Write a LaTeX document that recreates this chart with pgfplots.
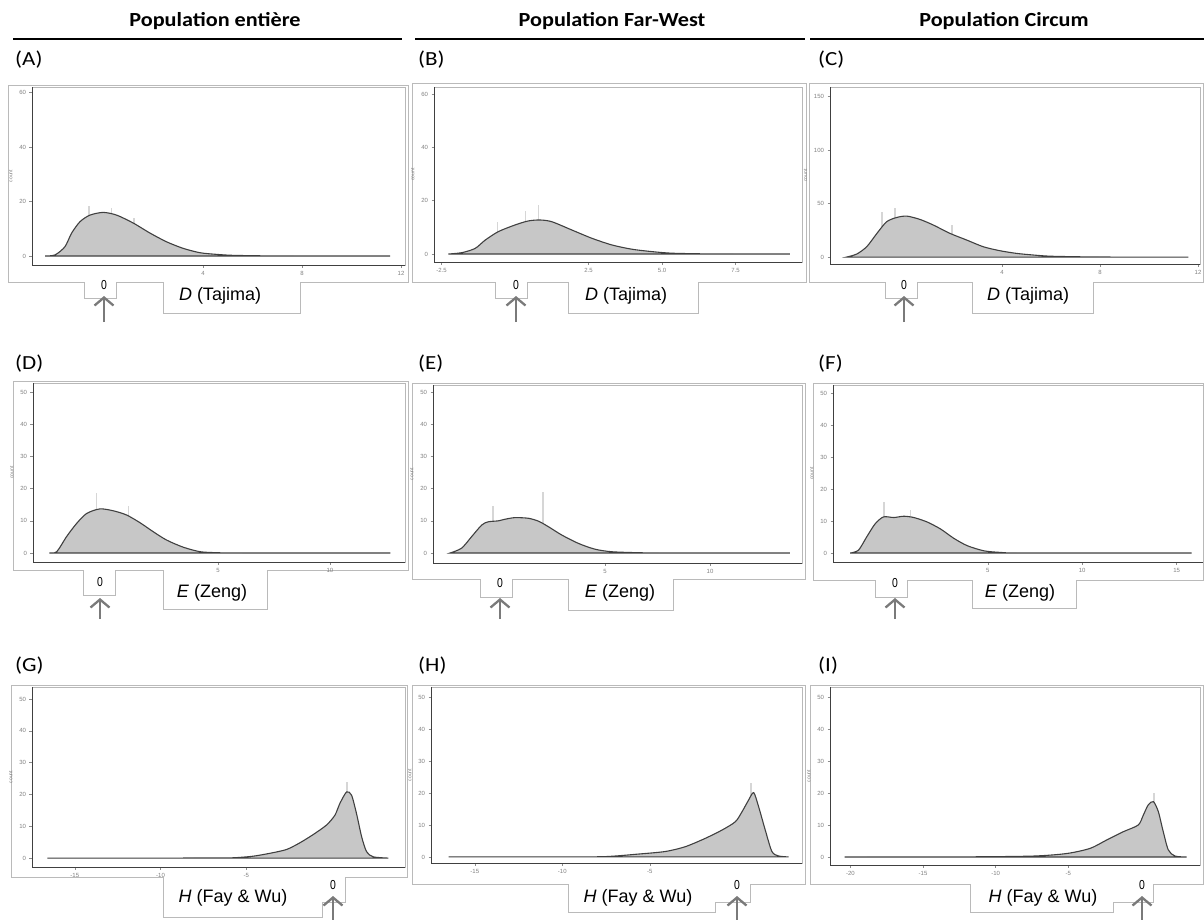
\documentclass[border=0pt]{standalone}
\usepackage{fontspec}
\setmainfont{Carlito}
\newfontfamily\arial{Liberation Sans}
\usepackage{pgfplots}
\pgfplotsset{compat=1.18}
\usepackage{pgfplotstable}
\usetikzlibrary{arrows.meta}

% ---------- density curves (count) ----------
\pgfplotstableread{
x y
-2.38 0
-1.98 0.4
-1.58 3.4
-1.31 8.4
-0.97 12.6
-0.57 15.0
-0.03 16.0
0.51 15.0
1.18 12.1
1.86 8.4
2.53 5.2
3.2 2.8
3.88 1.2
4.55 0.6
5.2 0.25
6.57 0.05
8 0
11.56 0
}\tabA
\pgfplotstableread{
x y
-2.27 0
-1.81 0.5
-1.36 2.1
-1.02 5.2
-0.57 8.4
0 10.9
0.45 12.4
0.85 12.75
1.25 12.1
1.93 9.0
2.61 5.9
3.29 3.4
3.97 1.8
4.65 0.9
5.33 0.3
6.46 0.05
7.5 0
9.35 0
}\tabB
\pgfplotstableread{
x y
-2.34 0
-1.93 2.8
-1.52 9.7
-1.11 22
-0.71 33
-0.3 37
0.11 38.3
0.65 35.2
1.2 29.9
1.88 22.1
2.56 15.9
3.24 9.6
3.92 5.9
4.6 3.4
5.28 1.9
5.96 0.8
7.3 0.2
8.5 0
11.6 0
}\tabC
\pgfplotstableread{
x y
-2.53 0
-2.2 0.4
-1.76 5.1
-1.31 9.2
-0.86 12.3
-0.27 13.7
0.33 13.1
0.92 11.8
1.52 9.4
2.11 6.6
2.71 4.0
3.45 1.8
4.2 0.4
4.94 0.1
6 0
12.7 0
}\tabD
\pgfplotstableread{
x y
-2.38 0
-1.83 1.5
-1.35 5.1
-0.87 8.7
-0.56 9.7
-0.08 10.0
0.24 10.5
0.71 11.0
1.35 10.8
1.83 9.9
2.3 8.2
2.94 5.6
3.73 3.0
4.52 1.2
5.32 0.4
6.6 0.1
8 0
13.8 0
}\tabE
\pgfplotstableread{
x y
-2.29 0
-1.85 0.9
-1.41 5.1
-0.96 9.2
-0.52 11.3
0.02 11.1
0.55 11.5
1.08 11.1
1.79 9.7
2.5 7.5
3.2 4.6
3.91 2.3
4.79 0.7
5.67 0.2
7 0
15.8 0
}\tabF
\pgfplotstableread{
x y
-16.6 0
-10 0
-7.5 0.05
-5.77 0.1
-4.6 0.6
-3.63 1.5
-2.65 2.7
-1.87 4.8
-1.09 7.4
-0.31 10.4
0.18 13.5
0.47 17.2
0.86 20.8
1.15 19.8
1.44 14.0
1.74 6.7
2.03 2.0
2.42 0.4
3.3 0
}\tabG
\pgfplotstableread{
x y
-16.5 0
-10 0.02
-7.54 0.1
-5.64 0.9
-4.11 1.7
-2.97 3.2
-1.83 5.8
-0.87 8.4
-0.11 11.0
0.27 14.1
0.65 17.8
0.94 20.1
1.22 15.7
1.6 8.4
1.98 1.7
2.36 0.3
2.93 0
}\tabH
\pgfplotstableread{
x y
-20.4 0
-12 0.05
-7.4 0.3
-5.1 1.1
-3.5 2.7
-2.37 5.3
-1.22 7.9
-0.19 10.0
0.16 13.1
0.5 16.3
0.85 17.3
1.19 14.2
1.53 7.9
1.88 2.2
2.34 0.3
3.14 0
}\tabI

\pgfplotsset{
  hp/.style={
    scale only axis,
    anchor=south west,
    axis line style={draw=black!28, line width=0.6pt},
    tick pos=left,
    tick align=outside,
    major tick length=2.5pt,
    tick style={draw=black!45, line width=0.5pt},
    /pgf/number format/assume math mode=true,
    ticklabel style={font=\arial\fontsize{6}{7}\selectfont, text=black!50},
    ylabel={count},
    ylabel style={font=\arial\fontsize{5}{6}\selectfont, text=black!50},
    after end axis/.code={\draw[black!75, line width=0.9pt] (rel axis cs:0,1) -- (rel axis cs:0,0) -- (rel axis cs:1,0);},
  },
  dens/.style={draw=black!75, line width=1.1pt, fill=black!22, smooth, tension=0.45},
  spk/.style={ycomb, draw=black!16, line width=1.6pt, no markers},
}

\begin{document}
\begin{tikzpicture}
\useasboundingbox (0,0) rectangle (1204pt,-919pt);
\begin{scope}[x=1pt,y=-1pt]
% column titles
\node[anchor=base, font=\bfseries\fontsize{20}{24}\selectfont, xscale=1.11, transform shape] at (215,26) {Population entière};
\node[anchor=base, font=\bfseries\fontsize{20}{24}\selectfont, xscale=1.11, transform shape] at (612,26) {Population Far-West};
\node[anchor=base, font=\bfseries\fontsize{20}{24}\selectfont, xscale=1.11, transform shape] at (1004,26) {Population Circum};
\draw[black, line width=1.6pt] (13,39) -- (402,39);
\draw[black, line width=1.6pt] (415,39) -- (805,39);
\draw[black, line width=1.6pt] (810,39) -- (1204,39);
% panel letters
\foreach \lab/\xx/\yy in {(A)/15/65,(B)/418/65,(C)/818/65,(D)/15/369,(E)/418/369,(F)/818/369,(G)/15/671,(H)/418/671,(I)/818/671}
  \node[anchor=base west, inner sep=0pt, font=\fontsize{20}{24}\selectfont, xscale=1.15, transform shape] at (\xx,\yy) {\lab};
% outer frames of pasted plots
\begin{scope}[draw=black!27, line width=0.8pt]
\draw (8,85) -- (408,85) -- (408,282) -- (300,282) -- (300,313) -- (163,313) -- (163,282) -- (116,282) -- (116,298) -- (84,298) -- (84,282) -- (8,282) -- cycle;
\draw (412,83) -- (806,83) -- (806,282) -- (698,282) -- (698,313) -- (568,313) -- (568,282) -- (527,282) -- (527,298) -- (495,298) -- (495,282) -- (412,282) -- cycle;
\draw (809,83) -- (1203,83) -- (1203,282) -- (1093,282) -- (1093,313) -- (972,313) -- (972,282) -- (917,282) -- (917,298) -- (885,298) -- (885,282) -- (809,282) -- cycle;
\draw (13,381) -- (408,381) -- (408,570) -- (267,570) -- (267,609) -- (163,609) -- (163,570) -- (115,570) -- (115,595) -- (83,595) -- (83,570) -- (13,570) -- cycle;
\draw (412,383) -- (805,383) -- (805,579) -- (673,579) -- (673,610) -- (568,610) -- (568,579) -- (512,579) -- (512,597) -- (480,597) -- (480,579) -- (412,579) -- cycle;
\draw (813,383) -- (1203,383) -- (1203,580) -- (1076,580) -- (1076,608) -- (972,608) -- (972,580) -- (907,580) -- (907,597) -- (875,597) -- (875,580) -- (813,580) -- cycle;
\draw (11,685) -- (407,685) -- (407,877) -- (345,877) -- (345,902) -- (322,902) -- (322,917) -- (163,917) -- (163,877) -- (11,877) -- cycle;
\draw (412,685) -- (805,685) -- (805,884) -- (750,884) -- (750,902) -- (715,902) -- (715,912) -- (568,912) -- (568,884) -- (412,884) -- cycle;
\draw (810,685) -- (1203,685) -- (1203,884) -- (1153,884) -- (1153,902) -- (1113,902) -- (1113,912) -- (970,912) -- (970,884) -- (810,884) -- cycle;
\end{scope}
% zero markers
\foreach \xx/\yy in {104/285,516/285,904/285,100/582,500/583,895/583,333/885,737/885,1142/885}
  \node[font=\arial\fontsize{13}{14}\selectfont, xscale=0.8, transform shape, inner sep=0pt] at (\xx,\yy) {0};
% arrows
\foreach \xx/\ya/\yb in {104/322/296,516/322/296,904/322/296,100/619/598,500/619/598,895/619/598,333/922/896,737/922/896,1142/922/896}
  \draw[black!52, line width=2.3pt, -{Straight Barb[length=8pt,width=19pt,line width=2.3pt]}] (\xx,\ya) -- (\xx,\yb);
% statistic names
\foreach \xx in {220,626,1028}
  \node[font=\arial\fontsize{18}{20}\selectfont, inner sep=0pt] at (\xx,296) {\textit{D} (Tajima)};
\foreach \xx in {212,620,1020}
  \node[font=\arial\fontsize{18}{20}\selectfont, inner sep=0pt] at (\xx,593) {\textit{E} (Zeng)};
\foreach \xx in {233,638,1043}
  \node[font=\arial\fontsize{18}{20}\selectfont, inner sep=0pt] at (\xx,898) {\textit{H} (Fay \& Wu)};
\end{scope}

% ---------------- Row 1 ----------------
\begin{axis}[hp, at={(32pt,-265pt)}, width=373pt, height=178pt,
  xmin=-2.91, xmax=12.16, ymin=-3.3, ymax=62, xtick={4,8,12}, ytick={0,20,40,60}]
\addplot[spk] coordinates {(-0.6,18.5) (0.3,17.5) (1.2,14)};
\addplot[dens] table {\tabA} \closedcycle;
\end{axis}
\begin{axis}[hp, at={(434pt,-262pt)}, width=368pt, height=175pt,
  xmin=-2.76, xmax=9.76, ymin=-3.0, ymax=62.6, xtick={-2.5,2.5,5,7.5}, xticklabels={-2.5,2.5,5.0,7.5}, ytick={0,20,40,60}]
\addplot[spk] coordinates {(-0.6,12) (0.35,16) (0.8,18.5)};
\addplot[dens] table {\tabB} \closedcycle;
\end{axis}
\begin{axis}[hp, at={(830pt,-264pt)}, width=370pt, height=177pt,
  xmin=-3.02, xmax=12.08, ymin=-6.5, ymax=159, xtick={4,8,12}, ytick={0,50,100,150}]
\addplot[spk] coordinates {(-0.91,42.3) (-0.37,45.8) (1.95,30)};
\addplot[dens] table {\tabC} \closedcycle;
\end{axis}

% ---------------- Row 2 ----------------
\begin{axis}[hp, at={(33pt,-562pt)}, width=372pt, height=179pt,
  xmin=-3.26, xmax=13.35, ymin=-2.8, ymax=52.8, xtick={5,10}, ytick={0,10,20,30,40,50}]
\addplot[spk] coordinates {(-0.42,18.6) (1.0,14.5)};
\addplot[dens] table {\tabD} \closedcycle;
\end{axis}
\begin{axis}[hp, at={(433pt,-563pt)}, width=369pt, height=178pt,
  xmin=-3.19, xmax=14.38, ymin=-3.1, ymax=52.2, xtick={5,10}, ytick={0,10,20,30,40,50}]
\addplot[spk] coordinates {(-0.33,14.6) (2.05,19)};
\addplot[dens] table {\tabE} \closedcycle;
\end{axis}
\begin{axis}[hp, at={(833pt,-562pt)}, width=370pt, height=177pt,
  xmin=-3.2, xmax=16.4, ymin=-2.8, ymax=52.5, xtick={5,10,15}, ytick={0,10,20,30,40,50}]
\addplot[spk] coordinates {(-0.5,16) (0.9,13.5)};
\addplot[dens] table {\tabF} \closedcycle;
\end{axis}

% ---------------- Row 3 ----------------
\begin{axis}[hp, at={(32pt,-867pt)}, width=373pt, height=180pt,
  xmin=-17.5, xmax=4.27, ymin=-2.8, ymax=53.8, xtick={-15,-10,-5}, ytick={0,10,20,30,40,50}]
\addplot[spk] coordinates {(0.9,24)};
\addplot[dens] table {\tabG} \closedcycle;
\end{axis}
\begin{axis}[hp, at={(431pt,-863pt)}, width=371pt, height=176pt,
  xmin=-17.5, xmax=3.7, ymin=-1.9, ymax=53.1, xtick={-15,-10,-5}, ytick={0,10,20,30,40,50}]
\addplot[spk] coordinates {(0.8,23)};
\addplot[dens] table {\tabH} \closedcycle;
\end{axis}
\begin{axis}[hp, at={(830pt,-865pt)}, width=370pt, height=178pt,
  xmin=-21.4, xmax=4.06, ymin=-2.5, ymax=53.1, xtick={-20,-15,-10,-5}, ytick={0,10,20,30,40,50}]
\addplot[spk] coordinates {(0.9,20)};
\addplot[dens] table {\tabI} \closedcycle;
\end{axis}
\end{tikzpicture}
\end{document}
